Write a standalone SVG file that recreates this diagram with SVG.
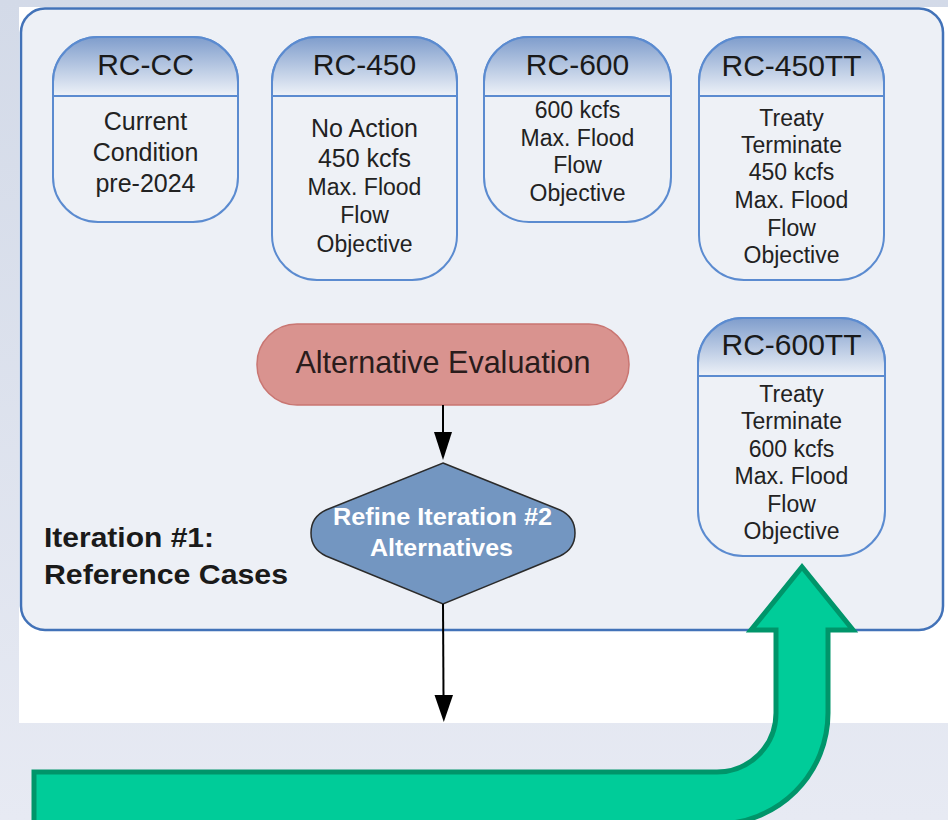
<svg xmlns="http://www.w3.org/2000/svg" width="948" height="820" viewBox="0 0 948 820">
  <defs>
    <linearGradient id="bg" x1="0" y1="0" x2="0" y2="1">
      <stop offset="0" stop-color="#d3dae8"/>
      <stop offset="1" stop-color="#e7eaf3"/>
    </linearGradient>
    <linearGradient id="hdr" x1="0" y1="0" x2="0" y2="1">
      <stop offset="0" stop-color="#7f9dcc"/>
      <stop offset="1" stop-color="#eef2f8"/>
    </linearGradient>
    <style>
      text { font-family: "Liberation Sans", Arial, sans-serif; text-anchor: middle; }
      .node { fill: #eef1f6; stroke: #5b8bd0; stroke-width: 2; }
      .hdr { fill: url(#hdr); stroke: #5b8bd0; stroke-width: 2; }
      .title { font-size: 30px; fill: #1a1a1a; }
      .body { font-size: 23px; fill: #222; }
      .big { font-size: 25px; }
      .label { font-size: 28px; font-weight: bold; text-anchor: start; fill: #1a1a1a; }
      .conn { stroke: #000; stroke-width: 2; fill: none; }
      .head { fill: #000; }
    </style>
  </defs>

  <!-- page background -->
  <rect x="0" y="0" width="948" height="820" fill="url(#bg)"/>
  <rect x="19" y="7" width="929" height="716" fill="#ffffff"/>

  <!-- iteration container -->
  <g id="container">
    <rect x="21" y="8.5" width="922" height="621.5" rx="24" fill="#edf0f6" stroke="#4272b8" stroke-width="2.5"/>
    <text class="label" x="44" y="547" textLength="170" lengthAdjust="spacingAndGlyphs">Iteration #1:</text>
    <text class="label" x="44" y="584" textLength="244" lengthAdjust="spacingAndGlyphs">Reference Cases</text>
  </g>

  <!-- green return arrow -->
  <g id="loop-arrow">
    <path d="M34,772 H717 A59,59 0 0 0 776,713 V630 H751 L802,567 L853,630 H828 V713 A111,111 0 0 1 717,824 H34 Z" fill="#00cc99" stroke="#00956a" stroke-width="5" stroke-linejoin="miter"/>
  </g>

  <!-- reference case nodes -->
  <g id="rc-cc">
    <rect class="node" x="53" y="37" width="185" height="185" rx="45"/>
    <path class="hdr" d="M53,96 V82 A45,45 0 0 1 98,37 H193 A45,45 0 0 1 238,82 V96 Z"/>
    <text class="title" x="145.5" y="75">RC-CC</text>
    <text class="body big" x="145.5" y="130">Current</text>
    <text class="body big" x="145.5" y="161">Condition</text>
    <text class="body big" x="145.5" y="192">pre-2024</text>
  </g>

  <g id="rc-450">
    <rect class="node" x="272" y="37" width="185" height="243" rx="45"/>
    <path class="hdr" d="M272,96 V82 A45,45 0 0 1 317,37 H412 A45,45 0 0 1 457,82 V96 Z"/>
    <text class="title" x="364.5" y="75">RC-450</text>
    <text class="body big" x="364.5" y="137">No Action</text>
    <text class="body big" x="364.5" y="167">450 kcfs</text>
    <text class="body" x="364.5" y="195">Max. Flood</text>
    <text class="body" x="364.5" y="223">Flow</text>
    <text class="body" x="364.5" y="252">Objective</text>
  </g>

  <g id="rc-600">
    <rect class="node" x="484" y="37" width="187" height="185" rx="45"/>
    <path class="hdr" d="M484,96 V82 A45,45 0 0 1 529,37 H626 A45,45 0 0 1 671,82 V96 Z"/>
    <text class="title" x="577.5" y="75">RC-600</text>
    <text class="body" x="577.5" y="118">600 kcfs</text>
    <text class="body" x="577.5" y="146">Max. Flood</text>
    <text class="body" x="577.5" y="173">Flow</text>
    <text class="body" x="577.5" y="201">Objective</text>
  </g>

  <g id="rc-450tt">
    <rect class="node" x="699" y="37" width="185" height="243" rx="45"/>
    <path class="hdr" d="M699,96 V82 A45,45 0 0 1 744,37 H839 A45,45 0 0 1 884,82 V96 Z"/>
    <text class="title" x="791.5" y="76">RC-450TT</text>
    <text class="body" x="791.5" y="126">Treaty</text>
    <text class="body" x="791.5" y="153">Terminate</text>
    <text class="body" x="791.5" y="180">450 kcfs</text>
    <text class="body" x="791.5" y="208">Max. Flood</text>
    <text class="body" x="791.5" y="236">Flow</text>
    <text class="body" x="791.5" y="263">Objective</text>
  </g>

  <g id="rc-600tt">
    <rect class="node" x="698" y="318" width="187" height="238" rx="45"/>
    <path class="hdr" d="M698,376 V363 A45,45 0 0 1 743,318 H840 A45,45 0 0 1 885,363 V376 Z"/>
    <text class="title" x="791.5" y="355">RC-600TT</text>
    <text class="body" x="791.5" y="402">Treaty</text>
    <text class="body" x="791.5" y="429">Terminate</text>
    <text class="body" x="791.5" y="457">600 kcfs</text>
    <text class="body" x="791.5" y="484">Max. Flood</text>
    <text class="body" x="791.5" y="512">Flow</text>
    <text class="body" x="791.5" y="539">Objective</text>
  </g>

  <!-- process and decision -->
  <g id="alt-eval">
    <rect x="257" y="324" width="372" height="81" rx="40" fill="#d9938f" stroke="#c97672" stroke-width="1.5"/>
    <text x="443" y="373" style="font-size:30.5px" fill="#2a1c1c">Alternative Evaluation</text>
  </g>

  <g id="refine">
    <path d="M443,463 L560,510 Q575,517 575,533 Q575,549 560,556 L443,604 L326,556 Q311,549 311,533 Q311,517 326,510 Z" fill="#7396c1" stroke="#2b2b2b" stroke-width="1.5"/>
    <text x="442.5" y="525" style="font-size:23px;font-weight:bold" fill="#ffffff" textLength="219" lengthAdjust="spacingAndGlyphs">Refine Iteration #2</text>
    <text x="441.5" y="556" style="font-size:23px;font-weight:bold" fill="#ffffff" textLength="143" lengthAdjust="spacingAndGlyphs">Alternatives</text>
  </g>

  <!-- connectors -->
  <g id="connectors">
    <line class="conn" x1="443" y1="405" x2="443" y2="434"/>
    <polygon class="head" points="434,432 452,432 443,460"/>
    <line class="conn" x1="443" y1="604" x2="443.5" y2="697"/>
    <polygon class="head" points="434.5,695 453,695 443.8,722"/>
  </g>
</svg>
